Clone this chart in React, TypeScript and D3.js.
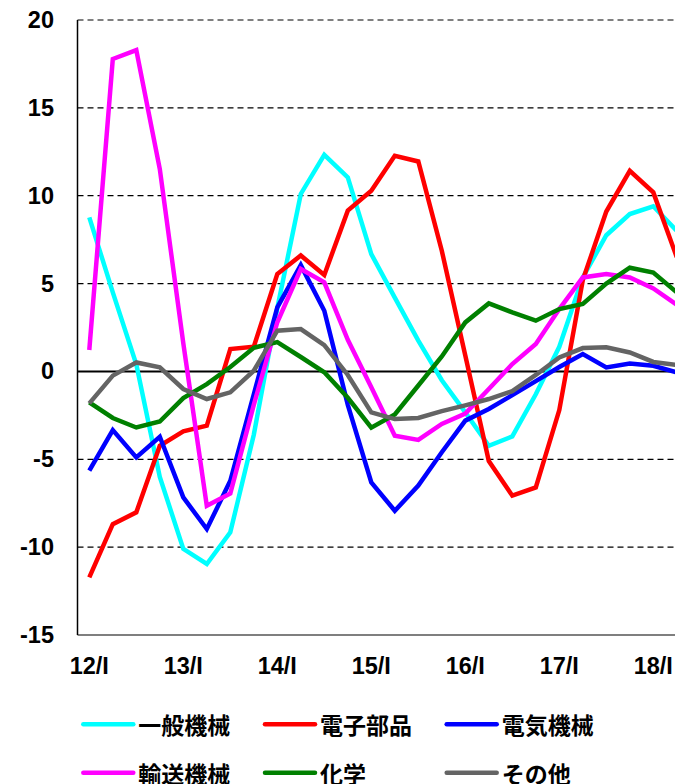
import React from "react";
import * as d3 from "d3";

const quarters = [
  "12/I","12/II","12/III","12/IV","13/I","13/II","13/III","13/IV",
  "14/I","14/II","14/III","14/IV","15/I","15/II","15/III","15/IV",
  "16/I","16/II","16/III","16/IV","17/I","17/II","17/III","17/IV",
  "18/I","18/II",
];
const xTickLabels = ["12/I","13/I","14/I","15/I","16/I","17/I","18/I"];
const yTicks = [-15, -10, -5, 0, 5, 10, 15, 20];

const generalMachinery = [8.77,4.5,0.4,-6.0,-10.1,-10.96,-9.16,-3.6,3.6,10.1,12.33,11.04,6.68,4.2,1.75,-0.5,-2.33,-4.23,-3.7,-1.3,1.4,5.35,7.75,8.96,9.4,8.0];
const electronicParts = [-11.72,-8.69,-8.02,-4.23,-3.41,-3.09,1.27,1.41,5.54,6.6,5.49,9.15,10.28,12.27,11.95,6.87,0.9,-5.1,-7.07,-6.6,-2.2,5.2,9.1,11.42,10.19,6.5];
const electricMachinery = [-5.65,-3.34,-4.89,-3.72,-7.17,-8.97,-6.22,-1.3,3.64,6.05,3.45,-1.9,-6.32,-7.93,-6.5,-4.6,-2.8,-2.14,-1.35,-0.55,0.25,0.99,0.23,0.45,0.32,-0.05];
const transportMachinery = [1.22,17.78,18.29,11.52,1.6,-7.65,-6.94,-1.9,2.8,5.83,5.07,1.8,-0.9,-3.66,-3.9,-2.99,-2.4,-1.0,0.42,1.56,3.55,5.35,5.54,5.35,4.72,3.8];
const chemicals = [-1.76,-2.65,-3.19,-2.85,-1.52,-0.72,0.25,1.35,1.67,0.82,-0.05,-1.5,-3.2,-2.45,-0.8,0.85,2.79,3.87,3.36,2.89,3.55,3.84,5.0,5.9,5.63,4.5];
const others = [-1.82,-0.24,0.51,0.23,-1.0,-1.57,-1.19,0.04,2.32,2.41,1.5,-0.2,-2.33,-2.71,-2.65,-2.26,-1.93,-1.57,-1.12,-0.2,0.8,1.33,1.37,1.08,0.54,0.37];

const seriesNames = ["一般機械","電子部品","電気機械","輸送機械","化学","その他"];
const seriesColors = ["#00FFFF","#FF0000","#0000FF","#FF00FF","#008000","#646464"];
const seriesValues = [generalMachinery, electronicParts, electricMachinery, transportMachinery, chemicals, others];

const W = 675;
const H = 784;
const plotLeft = 77.5;
const plotTop = 20;
const plotBottom = 635;

export default function App() {
  const x = d3.scaleLinear().domain([0, quarters.length - 1]).range([89.3, 89.3 + 23.5 * (quarters.length - 1)]);
  const y = d3.scaleLinear().domain([-15, 20]).range([plotBottom, plotTop]);
  const line = d3.line<number>().x((_, i) => x(i)).y((d) => y(d));
  const font = "'Liberation Sans', Arial, sans-serif";
  const cjk = "'Noto Sans CJK JP', sans-serif";

  const legendCols = [83.3, 265, 446.7];
  const legendRows = [724.3, 772.7];

  return (
    <svg width={W} height={H} style={{ position: "absolute", left: 0, top: 0, background: "#fff" }}>
      <defs>
        <clipPath id="plotClip">
          <rect x={plotLeft} y={0} width={W - plotLeft} height={plotBottom + 10} />
        </clipPath>
      </defs>
      {yTicks.map((t) => (
        t === 0 ? null : (
          <line key={"g" + t} x1={plotLeft} x2={W} y1={y(t)} y2={y(t)}
            stroke="#000" strokeWidth={1.2}
            strokeDasharray={t === -15 ? "none" : "6,4"} />
        )
      ))}
      <line x1={plotLeft} x2={W} y1={y(0)} y2={y(0)} stroke="#000" strokeWidth={2} />
      <line x1={plotLeft} x2={plotLeft} y1={plotTop} y2={plotBottom} stroke="#000" strokeWidth={1.5} />
      {yTicks.map((t) => (
        <text key={"yl" + t} x={54} y={y(t)} textAnchor="end" dominantBaseline="central"
          fontFamily={font} fontWeight="bold" fontSize={23.5} fill="#000">{t}</text>
      ))}
      {xTickLabels.map((lab) => (
        <text key={"xl" + lab} x={x(quarters.indexOf(lab))} y={674} textAnchor="middle"
          fontFamily={font} fontWeight="bold" fontSize={23.5} fill="#000">{lab}</text>
      ))}
      <g clipPath="url(#plotClip)">
        {seriesValues.map((vals, k) => (
          <path key={"s" + k} d={line(vals) || ""} fill="none" stroke={seriesColors[k]}
            strokeWidth={4.5} strokeLinejoin="miter" strokeMiterlimit={3} />
        ))}
      </g>
      {seriesNames.map((name, k) => {
        const cx = legendCols[k % 3];
        const cy = legendRows[Math.floor(k / 3)];
        return (
          <g key={"lg" + k}>
            <line x1={cx} x2={cx + 50} y1={cy} y2={cy} stroke={seriesColors[k]} strokeWidth={4.5} strokeLinecap="round" />
            <text x={cx + 55} y={cy} dominantBaseline="central" fontFamily={cjk} fontWeight="bold"
              fontSize={23} fill="#000">{name}</text>
          </g>
        );
      })}
    </svg>
  );
}
